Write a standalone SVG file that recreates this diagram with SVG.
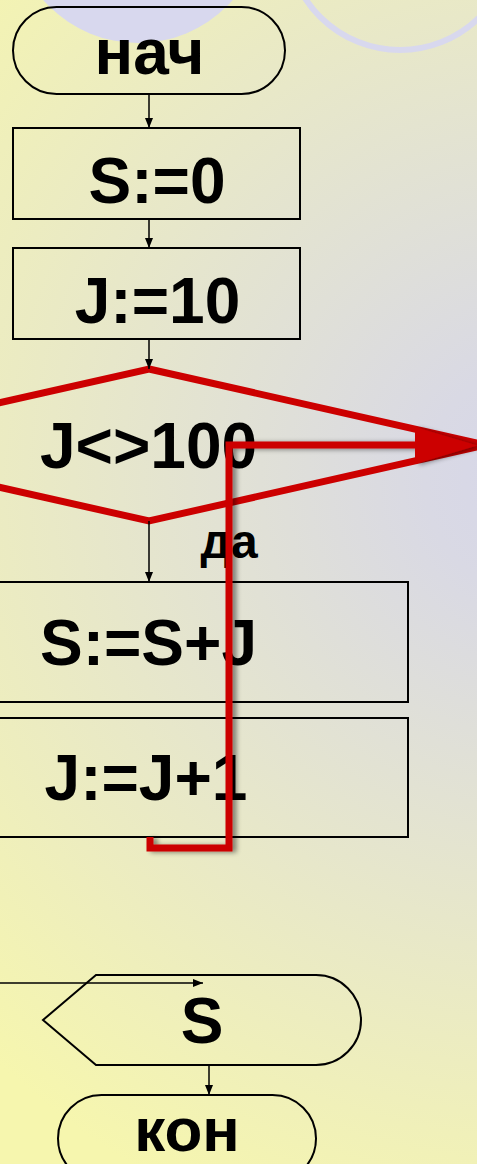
<svg xmlns="http://www.w3.org/2000/svg" width="477" height="1164" viewBox="0 0 477 1164">
  <defs>
    <radialGradient id="bg" gradientUnits="userSpaceOnUse" cx="545" cy="480" r="800">
      <stop offset="0" stop-color="#d6d6ea"/>
      <stop offset="0.15" stop-color="#d9d9e4"/>
      <stop offset="1" stop-color="#f6f6ae"/>
    </radialGradient>
    <marker id="ah" viewBox="0 0 10 10" refX="10" refY="5" markerWidth="10" markerHeight="10" markerUnits="userSpaceOnUse" orient="auto">
      <path d="M0,1 L10,5 L0,9 Z" fill="#000"/>
    </marker>
    <filter id="sh" x="-20%" y="-20%" width="140%" height="140%">
      <feGaussianBlur in="SourceAlpha" stdDeviation="2.5" result="b"/>
      <feOffset in="b" dx="4" dy="1" result="o"/>
      <feComponentTransfer in="o" result="s"><feFuncA type="linear" slope="0.45"/></feComponentTransfer>
      <feMerge><feMergeNode in="s"/><feMergeNode in="SourceGraphic"/></feMerge>
    </filter>
    <style>
      .t{font-family:"Liberation Sans",Arial,sans-serif;font-weight:bold;font-size:64px;fill:#000;text-anchor:middle}
      .n{fill:none;stroke:#000;stroke-width:2}
      .c{fill:none;stroke:#000;stroke-width:1.5;marker-end:url(#ah)}
      .red{fill:none;stroke:#cc0000;stroke-width:7}
    </style>
  </defs>
  <rect x="0" y="0" width="477" height="1164" fill="url(#bg)"/>
  <circle cx="138" cy="-83" r="126" fill="#d8d8ee"/>
  <circle cx="400" cy="-63" r="113" fill="none" stroke="#d8d8ee" stroke-width="6"/>

  <g id="start">
    <rect class="n" x="13" y="7" width="272" height="87" rx="43.5" ry="43.5"/>
    <text class="t" x="149.5" y="74">нач</text>
  </g>
  <g id="s0">
    <rect class="n" x="13" y="128" width="287" height="91"/>
    <text class="t" x="157" y="203">S:=0</text>
  </g>
  <g id="j10">
    <rect class="n" x="13" y="248" width="287" height="91"/>
    <text class="t" x="157.5" y="323">J:=10</text>
  </g>
  <g id="cond">
    <polygon class="red" points="149,369 485,445 149,521 -187,445" stroke-width="6.5"/>
    <text class="t" x="148.5" y="468">J&lt;&gt;100</text>
  </g>
  <g id="ssj">
    <rect class="n" x="-10" y="582" width="418" height="120"/>
    <text class="t" x="148.5" y="665">S:=S+J</text>
  </g>
  <g id="jj1">
    <rect class="n" x="-10" y="718" width="418" height="119"/>
    <text class="t" x="146" y="800">J:=J+1</text>
  </g>
  <g id="out">
    <path class="n" d="M96,975 L316,975 A45,45 0 0 1 316,1065 L96,1065 L43,1020 Z"/>
    <text class="t" x="202" y="1043">S</text>
  </g>
  <g id="end">
    <rect class="n" x="58" y="1095" width="258" height="87" rx="43.5" ry="43.5"/>
    <text class="t" x="187" y="1151" style="font-size:62px">кон</text>
  </g>

  <g id="connectors">
    <line class="c" x1="149" y1="94" x2="149" y2="128"/>
    <line class="c" x1="149" y1="219" x2="149" y2="248"/>
    <line class="c" x1="149" y1="339" x2="149" y2="369"/>
    <line class="c" x1="149" y1="521" x2="149" y2="582"/>
    <line class="c" x1="0" y1="983" x2="203" y2="983"/>
    <line class="c" x1="209" y1="1065" x2="209" y2="1095"/>
    <text class="t" x="229" y="558" style="font-size:48px">да</text>
  </g>

  <g id="highlight" filter="url(#sh)">
    <path class="red" stroke-width="8" stroke-linejoin="miter" d="M150,837 L150,848 L229,848 L229,445 L420,445"/>
    <polygon points="415,427 477,445.5 415,464" fill="#cc0000"/>
  </g>
</svg>
